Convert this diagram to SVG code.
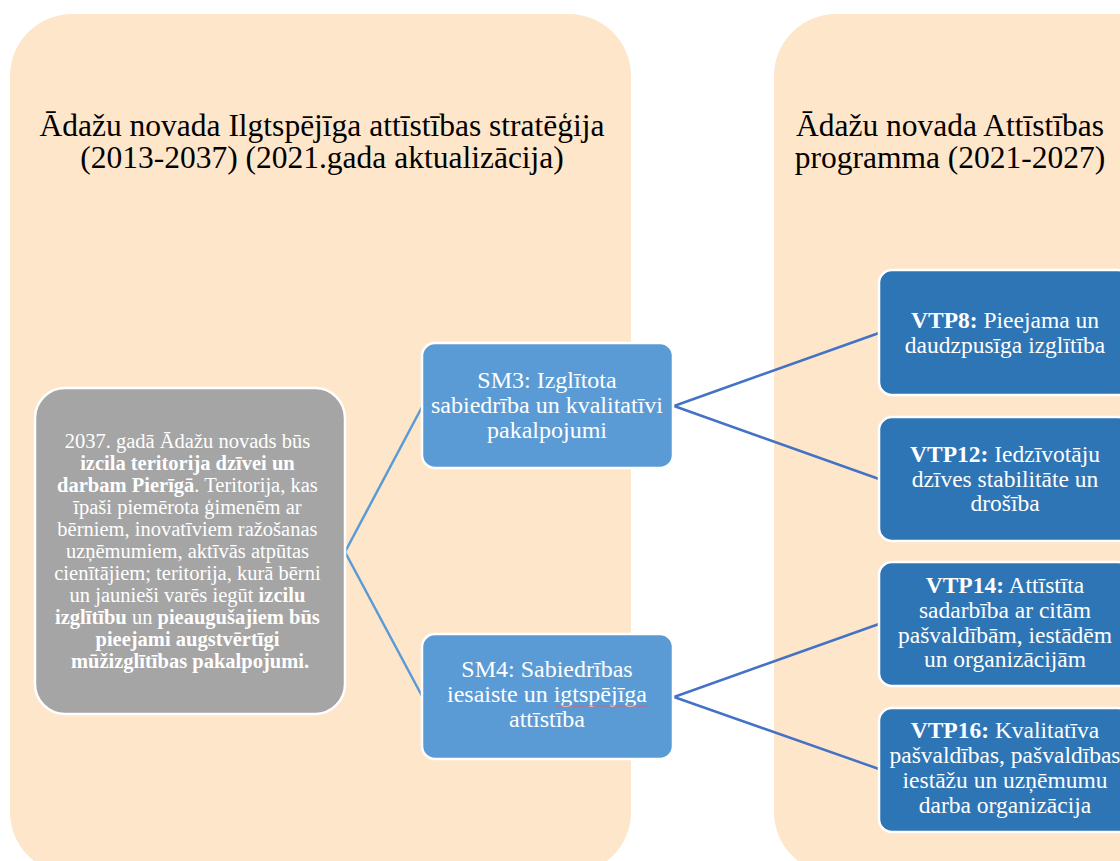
<svg xmlns="http://www.w3.org/2000/svg" width="1120" height="861" viewBox="0 0 1120 861">
<style>
.panel{fill:#fee6cb}
.title{font-family:"Liberation Serif","Times New Roman",serif;font-size:31.5px;fill:#000;text-anchor:middle}
.gray{fill:#a5a5a5;stroke:#fff;stroke-width:2.5}
.sm{fill:#5b9bd5;stroke:#fff;stroke-width:2.5}
.vtp{fill:#2e75b6;stroke:#fff;stroke-width:2.5}
.t{font-family:"Liberation Serif","Times New Roman",serif;fill:#fff;text-anchor:middle}
.tg{font-size:20.5px}
.ts{font-size:24px}
.tv{font-size:23.5px}
.b{font-weight:bold}
.c1{stroke:#5b9bd5;stroke-width:2.5;fill:none}
.c2{stroke:#4472c4;stroke-width:2.5;fill:none}
</style>
<rect width="1120" height="861" fill="#fff"/>
<g id="panel-strategy">
<rect class="panel" x="10" y="14" width="621" height="860" rx="62"/>
<text class="title" x="322" y="136">Ādažu novada Ilgtspējīga attīstības stratēģija</text>
<text class="title" x="322" y="168">(2013-2037) (2021.gada aktualizācija)</text>
</g>
<g id="panel-program">
<rect class="panel" x="774" y="14" width="420" height="860" rx="62"/>
<text class="title" x="950" y="136">Ādažu novada Attīstības</text>
<text class="title" x="950" y="168">programma (2021-2027)</text>
</g>
<g id="connectors">
<path class="c1" d="M345 552 L422 407 M345 552 L422 696"/>
<path class="c2" d="M674 406 L879 333 M674 406 L879 479 M674 697 L879 624 M674 697 L879 769"/>
</g>
<g id="vision">
<rect class="gray" x="35" y="388" width="310" height="326" rx="30"/>
<text class="t tg">
<tspan x="190" y="448">2037. gadā Ādažu novads būs</tspan>
<tspan x="190" y="470" class="b">izcila teritorija dzīvei un</tspan>
<tspan x="190" y="492"><tspan class="b">darbam Pierīgā</tspan>. Teritorija, kas</tspan>
<tspan x="190" y="514">īpaši piemērota ģimenēm ar</tspan>
<tspan x="190" y="536">bērniem, inovatīviem ražošanas</tspan>
<tspan x="190" y="558">uzņēmumiem, aktīvās atpūtas</tspan>
<tspan x="190" y="580">cienītājiem; teritorija, kurā bērni</tspan>
<tspan x="190" y="602">un jaunieši varēs iegūt <tspan class="b">izcilu</tspan></tspan>
<tspan x="190" y="624"><tspan class="b">izglītību</tspan> un <tspan class="b">pieaugušajiem būs</tspan></tspan>
<tspan x="190" y="646" class="b">pieejami augstvērtīgi</tspan>
<tspan x="190" y="668" class="b">mūžizglītības pakalpojumi.</tspan>
</text>
</g>
<g id="sm3">
<rect class="sm" x="422" y="343" width="251" height="125" rx="13"/>
<text class="t ts"><tspan x="547" y="388">SM3: Izglītota</tspan><tspan x="547" y="413">sabiedrība un kvalitatīvi</tspan><tspan x="547" y="438">pakalpojumi</tspan></text>
</g>
<g id="sm4">
<rect class="sm" x="422" y="634" width="251" height="125" rx="13"/>
<text class="t ts"><tspan x="547" y="677">SM4: Sabiedrības</tspan><tspan x="547" y="702">iesaiste un igtspējīga</tspan><tspan x="547" y="727">attīstība</tspan></text>
<path d="M555 706 L648 706" stroke="#e06070" stroke-width="1" fill="none"/>
</g>
<g id="vtp8">
<rect class="vtp" x="879" y="270" width="252" height="125" rx="13"/>
<text class="t tv"><tspan x="1005" y="328"><tspan class="b">VTP8:</tspan> Pieejama un</tspan><tspan x="1005" y="353">daudzpusīga izglītība</tspan></text>
</g>
<g id="vtp12">
<rect class="vtp" x="879" y="417" width="252" height="124" rx="13"/>
<text class="t tv"><tspan x="1005" y="462"><tspan class="b">VTP12:</tspan> Iedzīvotāju</tspan><tspan x="1005" y="487">dzīves stabilitāte un</tspan><tspan x="1005" y="511">drošība</tspan></text>
</g>
<g id="vtp14">
<rect class="vtp" x="879" y="562" width="252" height="124" rx="13"/>
<text class="t tv"><tspan x="1005" y="593"><tspan class="b">VTP14:</tspan> Attīstīta</tspan><tspan x="1005" y="618">sadarbība ar citām</tspan><tspan x="1005" y="643">pašvaldībām, iestādēm</tspan><tspan x="1005" y="667">un organizācijām</tspan></text>
</g>
<g id="vtp16">
<rect class="vtp" x="879" y="708" width="252" height="124" rx="13"/>
<text class="t tv"><tspan x="1005" y="738"><tspan class="b">VTP16:</tspan> Kvalitatīva</tspan><tspan x="1005" y="763">pašvaldības, pašvaldības</tspan><tspan x="1005" y="788">iestāžu un uzņēmumu</tspan><tspan x="1005" y="813">darba organizācija</tspan></text>
</g>
</svg>
